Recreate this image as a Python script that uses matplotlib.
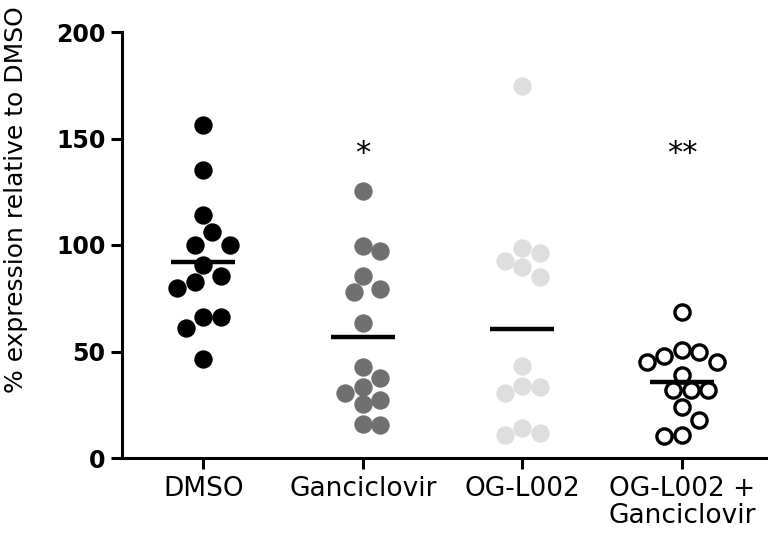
import matplotlib.pyplot as plt
import numpy as np

plt.rcParams['font.family'] = ['DejaVu Sans']

# Values (% expression relative to DMSO)
groups = ['DMSO', 'Ganciclovir', 'OG-L002', 'OG-L002 +\nGanciclovir']
dmso = [156.3, 135.2, 114.1, 106.3, 100.0, 100.0, 90.6, 85.4, 82.8, 79.6,
        66.3, 66.3, 60.9, 46.3]
ganciclovir = [125.5, 99.5, 97.3, 85.4, 79.2, 78.1, 63.2, 42.9, 37.4, 33.5,
               30.4, 27.2, 25.4, 16.0, 15.5]
ogl002 = [174.5, 98.4, 96.1, 92.6, 89.8, 84.8, 43.3, 33.9, 33.5, 30.4,
          13.9, 11.9, 10.8]
combo = [68.7, 50.7, 49.6, 47.9, 45.2, 45.2, 39.0, 31.9, 31.9, 31.9, 23.8,
         17.8, 10.8, 10.3]
means = [92.2, 57.0, 60.6, 35.8]
stars = ['', '*', '', '**']
star_y = 143

fig = plt.figure(figsize=(7.68, 5.42), dpi=100)
ax = fig.add_axes([122 / 768, 84 / 542, 646 / 768, 426 / 542])
ax.set_xlim(-0.51, 3.54)
ax.set_ylim(0, 200)

# pixels per data unit, used for the swarm layout
px_x = 646 / (3.54 + 0.51)
px_y = 426 / 200
diam = 17.5


def swarm(vals):
    # simple beeswarm: place each point at the nearest free offset
    placed = []
    offs = np.zeros(len(vals))
    order = np.argsort(vals)[::-1]
    cands = [0]
    for k in range(1, 10):
        cands += [k * 0.5, -k * 0.5]
    for i in order:
        yv = vals[i] * px_y
        for c in cands:
            xo = c * diam
            ok = all(np.hypot(xo - px, yv - py) >= diam * 0.95 for px, py in placed)
            if ok:
                placed.append((xo, yv))
                offs[i] = xo / px_x
                break
    return offs


styles = [
    dict(facecolor='black', edgecolor='black', linewidth=0),
    dict(facecolor='#707070', edgecolor='#707070', linewidth=0),
    dict(facecolor='#dedede', edgecolor='#dedede', linewidth=0),
    dict(facecolor='white', edgecolor='black', linewidth=2.4),
]

for i, vals in enumerate([dmso, ganciclovir, ogl002, combo]):
    vals = np.array(vals)
    offs = swarm(vals)
    size = 175 if i < 3 else 120
    ax.scatter(i + offs, vals, s=size, zorder=3, **styles[i])
    ax.plot([i - 0.2, i + 0.2], [means[i], means[i]], color='black',
            linewidth=3.2, solid_capstyle='butt', zorder=4)
    if stars[i]:
        ax.text(i, star_y, stars[i], ha='center', va='center', fontsize=22)

for s in ['top', 'right']:
    ax.spines[s].set_visible(False)
for s in ['left', 'bottom']:
    ax.spines[s].set_linewidth(2.2)

ax.set_yticks([0, 50, 100, 150, 200])
ax.tick_params(axis='y', length=8, width=2.2, labelsize=17, pad=4)
ax.tick_params(axis='x', length=8, width=2.2, labelsize=19, pad=5)
for lbl in ax.get_yticklabels():
    lbl.set_fontweight('bold')
ax.set_xticks(range(len(groups)))
ax.set_xticklabels(groups, linespacing=1.05)

ax.set_ylabel('% expression relative to DMSO', fontsize=18)
ax.yaxis.set_label_coords(-0.146, 0.607)

fig.savefig('out.png', dpi=100)
